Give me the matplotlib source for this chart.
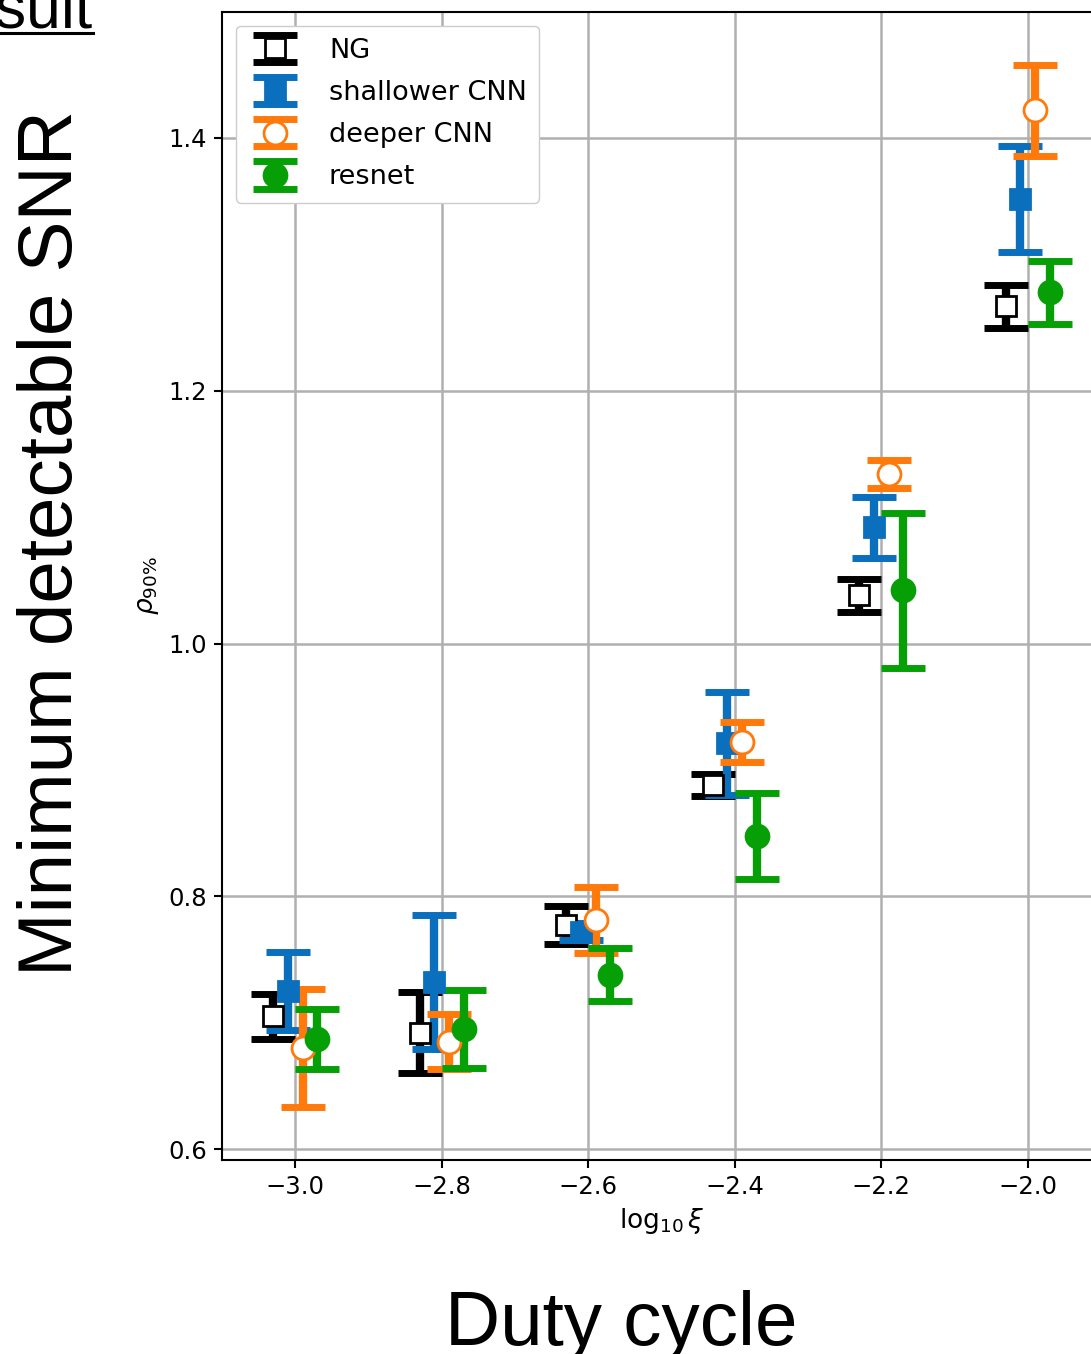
import matplotlib
matplotlib.use("Agg")
import matplotlib.pyplot as plt
from matplotlib.lines import Line2D

# log10 of the duty cycle for each group
log_duty = [-3.0, -2.8, -2.6, -2.4, -2.2, -2.0]

ng_rho = [0.705, 0.692, 0.777, 0.888, 1.038, 1.267]
ng_err = [0.018, 0.032, 0.015, 0.009, 0.013, 0.017]

shallow_rho = [0.725, 0.732, 0.772, 0.921, 1.092, 1.352]
shallow_err = [0.031, 0.053, 0.007, 0.041, 0.024, 0.042]

deeper_rho = [0.680, 0.685, 0.781, 0.922, 1.134, 1.422]
deeper_err = [0.047, 0.022, 0.026, 0.016, 0.011, 0.036]

resnet_rho = [0.687, 0.695, 0.738, 0.848, 1.042, 1.278]
resnet_err = [0.024, 0.031, 0.021, 0.034, 0.061, 0.025]

series_labels = ["NG", "shallower CNN", "deeper CNN", "resnet"]

W, H = 1091, 1354
fig = plt.figure(figsize=(W / 100, H / 100), dpi=100)
ax = fig.add_axes([222 / W, 194 / H, 879 / W, 1148 / H])

common = dict(elinewidth=6, capsize=16, capthick=5, linestyle="none")
styles = [
    dict(offset=-0.03, fmt="s", color="black", mfc="white", mec="black", ms=14.5),
    dict(offset=-0.01, fmt="s", color="#0a6fbd", mfc="#0a6fbd", mec="#0a6fbd", ms=14.5),
    dict(offset=0.01, fmt="o", color="#ff7a0a", mfc="white", mec="#ff7a0a", ms=16.5),
    dict(offset=0.03, fmt="o", color="#06a006", mfc="#06a006", mec="#06a006", ms=16.5),
]
values = [(ng_rho, ng_err), (shallow_rho, shallow_err),
          (deeper_rho, deeper_err), (resnet_rho, resnet_err)]

for (rho, err), st, label in zip(values, styles, series_labels):
    st = dict(st)
    off = st.pop("offset")
    xs = [x + off for x in log_duty]
    cont = ax.errorbar(xs, rho, yerr=err, label=label, **st, **common)
    # marker outline thinner than the caps
    cont[0].set_markeredgewidth(2.0)

ax.set_xlim(-3.1, -1.9)
ax.set_ylim(0.5913, 1.4997)
ax.set_xticks([-3.0, -2.8, -2.6, -2.4, -2.2, -2.0])
ax.set_yticks([0.6, 0.8, 1.0, 1.2, 1.4])
ax.grid(True, color="#b0b0b0", linewidth=1.8)
ax.set_axisbelow(True)
ax.tick_params(labelsize=17.5, length=6, width=1.5, pad=5)
for sp in ax.spines.values():
    sp.set_linewidth(1.5)

ax.set_xlabel(r"$\log_{10}\xi$", fontsize=19, labelpad=5)
ax.set_ylabel(r"$\rho_{90\%}$", fontsize=19, labelpad=5)

ax.legend(loc="upper left", fontsize=19.5, framealpha=1.0, edgecolor="0.8",
          handletextpad=1.0, labelspacing=0.6, borderpad=0.45)

# slide text around the chart
big = ["Liberation Sans", "DejaVu Sans"]
fig.text(53 / W, 1 - 543 / H, "Minimum detectable SNR", rotation=90,
         ha="center", va="center", fontsize=55, family=big)
fig.text(621 / W, 1 - 1345 / H, "Duty cycle", ha="center", va="baseline",
         fontsize=55, family=big)
fig.text(93 / W, 1 - 28 / H, "Result", ha="right", va="baseline",
         fontsize=45, family=big)
fig.add_artist(Line2D([0, 93 / W], [1 - 32.5 / H] * 2, transform=fig.transFigure,
                      color="black", linewidth=2.2))

fig.savefig("out.png", dpi=100)
